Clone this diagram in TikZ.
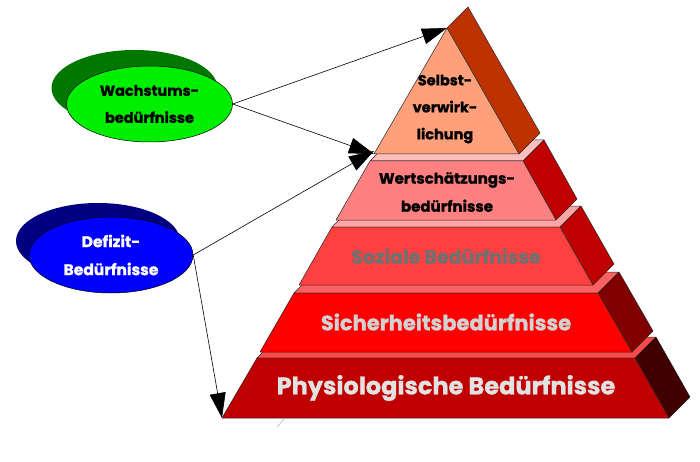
\documentclass[tikz,border=0pt]{standalone}
\usepackage{fontspec}
\setmainfont{Poppins}[BoldFeatures={FakeBold=1.2}]
\usepackage{tikz}
\usetikzlibrary{arrows.meta}
\usetikzlibrary{shapes.geometric}

\definecolor{wfront}{RGB}{0,238,0}
\definecolor{wshade}{RGB}{0,120,0}
\definecolor{dfront}{RGB}{0,0,255}
\definecolor{dshade}{RGB}{0,0,128}
\definecolor{topA}{RGB}{255,160,122}
\definecolor{sideA}{RGB}{190,50,0}
\definecolor{topB}{RGB}{255,128,128}
\definecolor{ledgeB}{RGB}{255,190,190}
\definecolor{sideB}{RGB}{192,0,0}
\definecolor{topC}{RGB}{255,64,64}
\definecolor{ledgeC}{RGB}{255,165,165}
\definecolor{topD}{RGB}{255,0,0}
\definecolor{ledgeD}{RGB}{255,96,96}
\definecolor{sideD}{RGB}{128,0,0}
\definecolor{topE}{RGB}{192,0,0}
\definecolor{ledgeE}{RGB}{255,72,72}
\definecolor{sideE}{RGB}{64,0,0}
\definecolor{txtC}{RGB}{112,112,112}
\definecolor{txtD}{RGB}{210,210,210}
\definecolor{txtE}{RGB}{226,226,226}

\begin{document}
\begin{tikzpicture}
[x=1pt,y=-1pt
,ell/.style={ellipse,draw=black,line width=0.5pt,minimum width=166pt,minimum height=76pt,inner sep=0pt,align=center,font=\fontsize{14.5}{27}\selectfont\bfseries}
,lvl/.style={draw=black!85,line width=0.5pt,line join=round}
,lbl/.style={align=center,inner sep=0pt,font=\bfseries}
,conn/.style={line width=0.6pt,arrows={-Triangle[length=25pt,width=16pt]}}]
\useasboundingbox (0,0) rectangle (700,462);
% ellipses
\fill[wshade] (134.5,88) ellipse [x radius=83pt,y radius=38pt];
\node[ell,fill=wfront] (wb) at (149.5,104) {Wachstums-\\bedürfnisse};
\fill[dshade] (98,241) ellipse [x radius=82pt,y radius=38pt];
\node[ell,fill=dfront,text=white,minimum width=164pt,font=\fontsize{15.5}{28}\selectfont\bfseries] (db) at (111,255) {Defizit-\\Bedürfnisse};
% pyramid, bottom level first
\filldraw[lvl,fill=ledgeE] (257,358) -- (635,358) -- (656,337) -- (278,337) -- cycle;
\filldraw[lvl,fill=sideE] (635,358) -- (656,337) -- (690,397) -- (669,418) -- cycle;
\filldraw[lvl,fill=topE] (257,358) -- (635,358) -- (669,418) -- (222,418) -- cycle;
\filldraw[lvl,fill=ledgeD] (294,293) -- (598,293) -- (619,272) -- (315,272) -- cycle;
\filldraw[lvl,fill=sideD] (598,293) -- (619,272) -- (653,331) -- (632,352) -- cycle;
\filldraw[lvl,fill=topD] (294,293) -- (598,293) -- (632,352) -- (260,352) -- cycle;
\filldraw[lvl,fill=ledgeC] (332,227) -- (560,227) -- (581,206) -- (353,206) -- cycle;
\filldraw[lvl,fill=sideB] (560,227) -- (581,206) -- (614,264) -- (593,285) -- cycle;
\filldraw[lvl,fill=topC] (332,227) -- (560,227) -- (593,285) -- (299,285) -- cycle;
\filldraw[lvl,fill=ledgeB] (370,161) -- (523,161) -- (544,140) -- (391,140) -- cycle;
\filldraw[lvl,fill=sideB] (523,161) -- (544,140) -- (577,199) -- (556,220) -- cycle;
\filldraw[lvl,fill=topB] (370,161) -- (523,161) -- (556,220) -- (336,220) -- cycle;
\filldraw[lvl,fill=sideA] (447,28) -- (468,7) -- (540,133) -- (519,154) -- cycle;
\filldraw[lvl,fill=topA] (447,28) -- (519,154) -- (374,154) -- cycle;
\coordinate (apex) at (447,28);
\coordinate (mid) at (374,154);
\coordinate (foot) at (222,418);
% labels
\node[lbl,font=\fontsize{14.5}{27}\selectfont\bfseries] (l1) at (445,109) {Selbst-\\verwirk-\\lichung};
\node[lbl,font=\fontsize{15}{28}\selectfont\bfseries] (l2) at (447,192) {Wertschätzungs-\\bedürfnisse};
\node[lbl,text=txtC,font=\fontsize{19}{22}\selectfont\bfseries] (l3) at (446,256) {Soziale Bedürfnisse};
\node[lbl,text=txtD,font=\fontsize{21}{24}\selectfont\bfseries] (l4) at (446,322) {Sicherheitsbedürfnisse};
\node[lbl,text=txtE,font=\fontsize{24}{28}\selectfont\bfseries] (l5) at (446,388) {Physiologische Bedürfnisse};
% arrows
\draw[conn] (wb.east) -- (apex);
\draw[conn] (wb.east) -- (mid);
\draw[conn] (db.east) -- ([yshift=3pt]mid);
\draw[conn] (db.east) -- (foot);
\draw[black!40,line width=0.4pt] (277,427) -- (285,418);
\end{tikzpicture}
\end{document}
